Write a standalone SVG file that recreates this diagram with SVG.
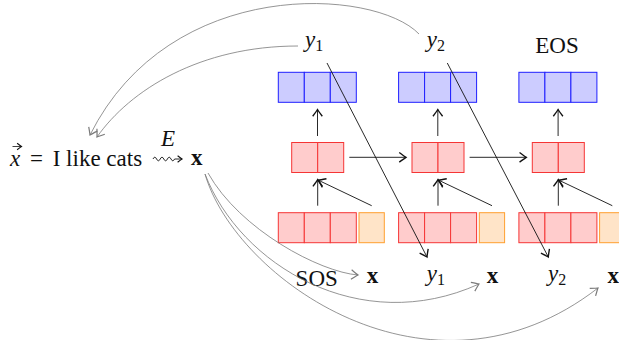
<svg xmlns="http://www.w3.org/2000/svg" width="619" height="340" viewBox="0 0 619 340">
<style>
.t{font-family:"Liberation Serif","Times New Roman",serif;font-size:23px;fill:#111}
.i{font-style:italic}
.b{font-weight:bold}
.sub{font-size:16px;font-style:normal}
.blue{fill:#ccccff;stroke:#1f1fff;stroke-width:1}
.red{fill:#ffcccc;stroke:#f53535;stroke-width:1}
.org{fill:#ffe4c8;stroke:#ff9f2f;stroke-width:1}
.k{fill:none;stroke:#111;stroke-width:0.9}
.g{fill:none;stroke:#7a7a7a;stroke-width:0.8}
</style>
<defs>
<marker id="ak" markerUnits="userSpaceOnUse" markerWidth="12" markerHeight="12" viewBox="-6 -4 8 8" refX="0" refY="0" orient="auto">
<path d="M-4.5,-3.2 Q-1,-0.6 0,0 Q-1,0.6 -4.5,3.2" fill="none" stroke="#111" stroke-width="0.9"/>
</marker>
<marker id="as" markerUnits="userSpaceOnUse" markerWidth="10" markerHeight="10" viewBox="-6 -4 8 8" refX="0" refY="0" orient="auto">
<path d="M-3.5,-2.6 Q-0.8,-0.5 0,0 Q-0.8,0.5 -3.5,2.6" fill="none" stroke="#111" stroke-width="0.9"/>
</marker>
<marker id="ag" markerUnits="userSpaceOnUse" markerWidth="12" markerHeight="12" viewBox="-6 -4 8 8" refX="0" refY="0" orient="auto">
<path d="M-4.5,-3.2 Q-1,-0.6 0,0 Q-1,0.6 -4.5,3.2" fill="none" stroke="#7a7a7a" stroke-width="0.8"/>
</marker>
</defs>

<g id="input">
<text class="t i" x="10" y="166">x</text>
<path d="M12.5,146.5H21.5" fill="none" stroke="#111" stroke-width="0.8" marker-end="url(#as)"/>
<text class="t" x="30" y="166">=</text>
<text class="t" x="52.7" y="166">I like cats</text>
</g>
<g id="embed">
<text class="t i" x="168" y="146" font-size="21" text-anchor="middle">E</text>
<path d="M153,159 q1.8,-3.6 3.6,0 t3.6,0 t3.6,0 t3.6,0 t3.6,0 t3.6,0 L182,159" fill="none" stroke="#111" stroke-width="0.9" marker-end="url(#as)"/>
</g>
<g id="xmain"><text class="t b" x="191" y="165">x</text></g>

<g id="out1"><rect class="blue" x="278.3" y="72.3" width="26" height="30"/><rect class="blue" x="304.3" y="72.3" width="26" height="30"/><rect class="blue" x="330.3" y="72.3" width="26" height="30"/></g>
<g id="out2"><rect class="blue" x="398.6" y="72.3" width="26" height="30"/><rect class="blue" x="424.6" y="72.3" width="26" height="30"/><rect class="blue" x="450.6" y="72.3" width="26" height="30"/></g>
<g id="out3"><rect class="blue" x="518.9" y="72.3" width="26" height="30"/><rect class="blue" x="544.9" y="72.3" width="26" height="30"/><rect class="blue" x="570.9" y="72.3" width="26" height="30"/></g>

<g id="h1"><rect class="red" x="291.7" y="142.5" width="26" height="30"/><rect class="red" x="317.7" y="142.5" width="26" height="30"/></g>
<g id="h2"><rect class="red" x="412" y="142.5" width="26" height="30"/><rect class="red" x="438" y="142.5" width="26" height="30"/></g>
<g id="h3"><rect class="red" x="532.3" y="142.5" width="26" height="30"/><rect class="red" x="558.3" y="142.5" width="26" height="30"/></g>

<g id="in1"><rect class="red" x="278.3" y="212.7" width="26" height="30"/><rect class="red" x="304.3" y="212.7" width="26" height="30"/><rect class="red" x="330.3" y="212.7" width="26" height="30"/><rect class="org" x="359" y="212.7" width="25.3" height="30"/></g>
<g id="in2"><rect class="red" x="398.6" y="212.7" width="26" height="30"/><rect class="red" x="424.6" y="212.7" width="26" height="30"/><rect class="red" x="450.6" y="212.7" width="26" height="30"/><rect class="org" x="479.3" y="212.7" width="25.3" height="30"/></g>
<g id="in3"><rect class="red" x="518.9" y="212.7" width="26" height="30"/><rect class="red" x="544.9" y="212.7" width="26" height="30"/><rect class="red" x="570.9" y="212.7" width="26" height="30"/><rect class="org" x="599.6" y="212.7" width="25.3" height="30"/></g>

<g id="ytop1"><text class="t i" x="305" y="47">y<tspan class="sub" dy="4">1</tspan></text></g>
<g id="ytop2"><text class="t i" x="426.7" y="47">y<tspan class="sub" dy="4">2</tspan></text></g>
<g id="eos"><text class="t" x="557" y="53" text-anchor="middle">EOS</text></g>

<g id="sos"><text class="t" x="316.7" y="286" text-anchor="middle">SOS</text></g>
<g id="xb1"><text class="t b" x="366.7" y="283">x</text></g>
<g id="ybot1"><text class="t i" x="426.7" y="281">y<tspan class="sub" dy="4">1</tspan></text></g>
<g id="xb2"><text class="t b" x="486.7" y="283">x</text></g>
<g id="ybot2"><text class="t i" x="548" y="281">y<tspan class="sub" dy="4">2</tspan></text></g>
<g id="xb3"><text class="t b" x="607.5" y="283">x</text></g>

<g id="connectors">
<path class="k" d="M349.3,157.3H406" marker-end="url(#ak)"/>
<path class="k" d="M469.6,157.3H526.3" marker-end="url(#ak)"/>
<path class="k" d="M317.5,136V109.5" marker-end="url(#ak)"/>
<path class="k" d="M437.8,136V109.5" marker-end="url(#ak)"/>
<path class="k" d="M558.1,136V109.5" marker-end="url(#ak)"/>
<path class="k" d="M317.7,205.7V179.6" marker-end="url(#ak)"/>
<path class="k" d="M438,205.7V179.6" marker-end="url(#ak)"/>
<path class="k" d="M558.3,205.7V179.6" marker-end="url(#ak)"/>
<path class="k" d="M371.7,205.7L318.3,180.2" marker-end="url(#ak)"/>
<path class="k" d="M492,205.7L438.6,180.2" marker-end="url(#ak)"/>
<path class="k" d="M612.3,205.7L558.9,180.2" marker-end="url(#ak)"/>
<path class="k" d="M327,63L427,257" marker-end="url(#ak)"/>
<path class="k" d="M447.3,63L548.3,257" marker-end="url(#ak)"/>
<path class="g" d="M208,173C240,230 320,272 358,275" marker-end="url(#ag)"/>
<path class="g" d="M205,174C240,265 360,338 479,284" marker-end="url(#ag)"/>
<path class="g" d="M205,174C235,278 430,418 598,288" marker-end="url(#ag)"/>
<path class="g" d="M298,46C200,46 130,90 97,137" marker-end="url(#ag)"/>
<path class="g" d="M419,34C375,-12 170,-25 90,135" marker-end="url(#ag)"/>
</g>
</svg>
